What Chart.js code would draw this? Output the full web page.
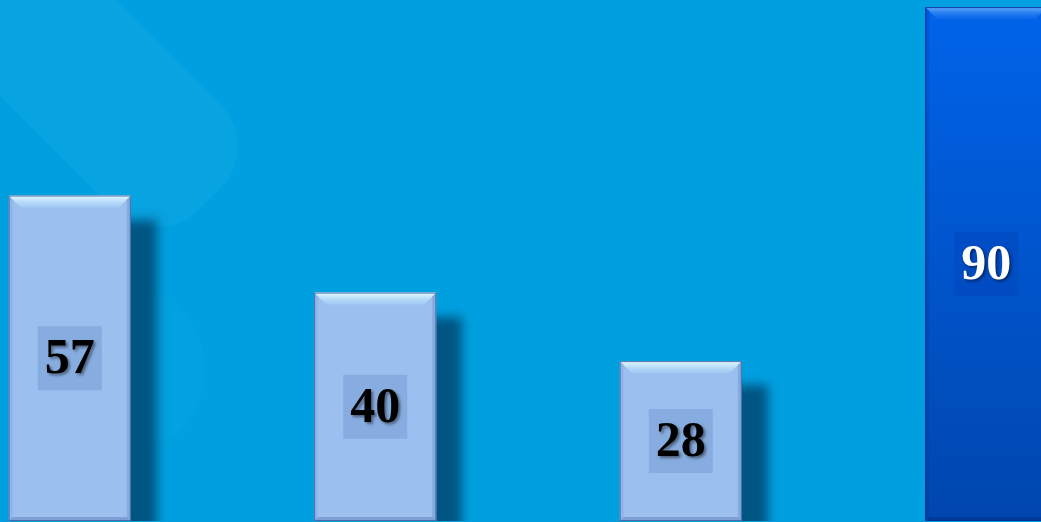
<!DOCTYPE html>
<html>
<head>
<meta charset="utf-8">
<script src="https://cdn.jsdelivr.net/npm/chart.js@4/dist/chart.umd.min.js"></script>
<style>
  html, body { margin: 0; padding: 0; }
  body { width: 1041px; height: 522px; overflow: hidden; position: relative; background: #00a0e0; }
  #wrap { position: absolute; left: -83px; top: -50px; width: 1222px; height: 571px; }
</style>
</head>
<body>
<div id="wrap"><canvas id="barChart"></canvas></div>
<script>
// Chart data
const categories = ['1', '2', '3', '4'];
const values = [57, 40, 28, 90];
const highlight = [false, false, false, true];
const yMax = 100;

function roundRect(ctx, x, y, w, h, r) {
    ctx.beginPath();
    ctx.moveTo(x + r, y);
    ctx.arcTo(x + w, y, x + w, y + h, r);
    ctx.arcTo(x + w, y + h, x, y + h, r);
    ctx.arcTo(x, y + h, x, y, r);
    ctx.arcTo(x, y, x + w, y, r);
    ctx.closePath();
}

// Background: faint diagonal band in the upper left
const bgPlugin = {
    id: 'bg',
    beforeDraw(chart) {
        const ctx = chart.ctx;
        ctx.save();
        ctx.fillStyle = '#00a0e0';
        ctx.fillRect(0, 0, chart.width, chart.height);
        ctx.translate(83, 50);
        ctx.save();
        ctx.translate(160, 150);
        ctx.rotate(Math.PI / 4);
        roundRect(ctx, -330, -75, 400, 150, 60);
        ctx.fillStyle = 'rgba(255,255,255,0.03)';
        ctx.fill();
        ctx.restore();
        ctx.beginPath();
        ctx.arc(120, 370, 85, 0, Math.PI * 2);
        ctx.fillStyle = 'rgba(255,255,255,0.015)';
        ctx.fill();
        ctx.restore();
    }
};

// Drop shadow under the bars
const shadowPlugin = {
    id: 'barShadow',
    beforeDatasetsDraw(chart) {
        const ctx = chart.ctx;
        ctx.save();
        ctx.shadowColor = 'rgba(0,60,100,0.75)';
        ctx.shadowBlur = 10;
        ctx.shadowOffsetX = 26;
        ctx.shadowOffsetY = 24;
    },
    afterDatasetsDraw(chart) {
        chart.ctx.restore();
    }
};

// Bevel edges and value labels
const bevelPlugin = {
    id: 'bevel',
    afterDatasetsDraw(chart) {
        const ctx = chart.ctx;
        const meta = chart.getDatasetMeta(0);
        meta.data.forEach((bar, i) => {
            const p = bar.getProps(['x', 'y', 'base', 'width'], true);
            const l = p.x - p.width / 2, r = p.x + p.width / 2;
            const t = p.y, b = p.base;
            const bv = 12, sv = 4;
            ctx.save();
            // top bevel
            let g = ctx.createLinearGradient(0, t, 0, t + bv);
            g.addColorStop(0, highlight[i] ? 'rgba(110,180,255,0.9)' : 'rgba(230,252,255,1)');
            g.addColorStop(1, highlight[i] ? 'rgba(40,120,240,0.2)' : 'rgba(170,215,250,0.4)');
            ctx.fillStyle = g;
            ctx.beginPath();
            ctx.moveTo(l, t); ctx.lineTo(r, t); ctx.lineTo(r - bv, t + bv); ctx.lineTo(l + bv, t + bv);
            ctx.closePath(); ctx.fill();
            // left edge
            ctx.fillStyle = highlight[i] ? 'rgba(0,40,140,0.2)' : 'rgba(110,150,210,0.25)';
            ctx.beginPath();
            ctx.moveTo(l, t); ctx.lineTo(l + sv, t + sv); ctx.lineTo(l + sv, b - sv); ctx.lineTo(l, b);
            ctx.closePath(); ctx.fill();
            // right edge
            ctx.fillStyle = highlight[i] ? 'rgba(0,30,120,0.25)' : 'rgba(90,130,190,0.35)';
            ctx.beginPath();
            ctx.moveTo(r, t); ctx.lineTo(r - sv, t + sv); ctx.lineTo(r - sv, b - sv); ctx.lineTo(r, b);
            ctx.closePath(); ctx.fill();
            // bottom edge
            ctx.fillStyle = highlight[i] ? 'rgba(0,30,100,0.3)' : 'rgba(80,110,170,0.4)';
            ctx.beginPath();
            ctx.moveTo(l, b); ctx.lineTo(l + sv, b - sv); ctx.lineTo(r - sv, b - sv); ctx.lineTo(r, b);
            ctx.closePath(); ctx.fill();
            // outline
            ctx.strokeStyle = highlight[i] ? 'rgba(0,50,150,0.9)' : 'rgba(70,100,160,0.9)';
            ctx.lineWidth = 1;
            ctx.strokeRect(l + 0.5, t + 0.5, p.width - 1, b - t - 1);

            // label box
            const cy = (t + b) / 2;
            const bs = 64;
            ctx.fillStyle = highlight[i] ? 'rgba(0,70,190,0.55)' : 'rgba(90,130,190,0.3)';
            ctx.fillRect(p.x - bs / 2, cy - bs / 2, bs, bs);
            // label text
            ctx.font = 'bold 50px "Liberation Serif", "Times New Roman", serif';
            ctx.textAlign = 'center';
            ctx.textBaseline = 'middle';
            ctx.shadowColor = 'rgba(0,0,0,0.45)';
            ctx.shadowBlur = 3;
            ctx.shadowOffsetX = 2;
            ctx.shadowOffsetY = 2;
            ctx.fillStyle = highlight[i] ? '#ffffff' : '#000000';
            ctx.fillText(String(values[i]), p.x, cy + 2);
            ctx.restore();
        });
    }
};

function barColor(context) {
    const i = context.dataIndex;
    if (!highlight[i]) return '#9bc0f0';
    const area = context.chart.chartArea;
    if (!area) return '#0058d8';
    const g = context.chart.ctx.createLinearGradient(0, area.top, 0, area.bottom);
    g.addColorStop(0, '#0066ee');
    g.addColorStop(0.15, '#0062e6');
    g.addColorStop(1, '#0046ae');
    return g;
}

const ctx = document.getElementById('barChart').getContext('2d');
new Chart(ctx, {
    type: 'bar',
    data: {
        labels: categories,
        datasets: [{
            data: values,
            backgroundColor: barColor,
            borderWidth: 0,
            categoryPercentage: 1,
            barPercentage: 0.4
        }]
    },
    options: {
        responsive: true,
        maintainAspectRatio: false,
        animation: false,
        layout: { padding: 0 },
        plugins: {
            legend: { display: false },
            title: { display: false },
            tooltip: { enabled: false }
        },
        scales: {
            x: { display: false, offset: true, grid: { display: false } },
            y: { display: false, min: 0, max: yMax, grid: { display: false } }
        }
    },
    plugins: [bgPlugin, shadowPlugin, bevelPlugin]
});
</script>
</body>
</html>
